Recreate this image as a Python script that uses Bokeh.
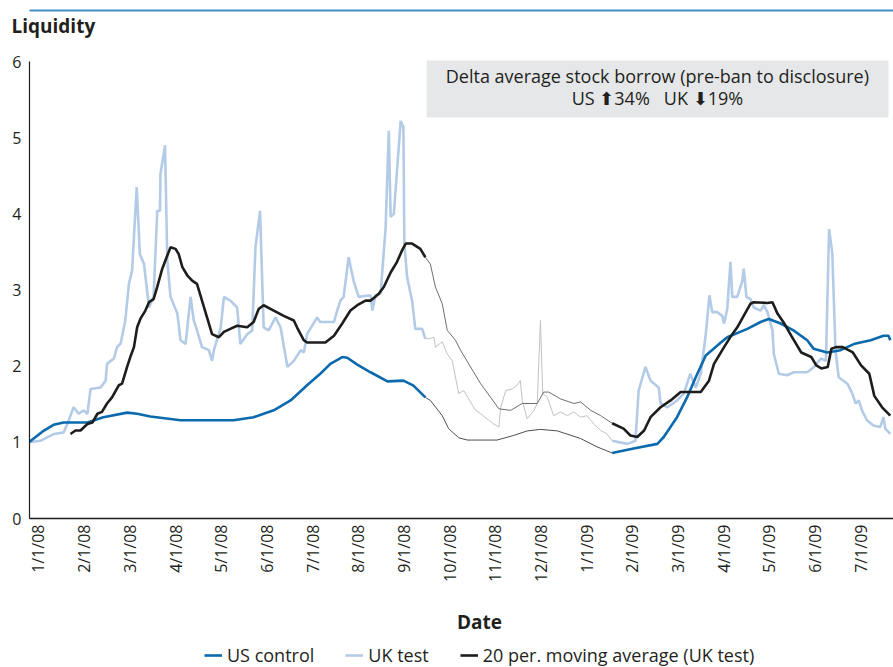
import math
import numpy as np
from bokeh.plotting import figure
from bokeh.models import (Range1d, FixedTicker, Label, BoxAnnotation, Legend, LegendItem, Title,
                          LinearAxis)
from bokeh.layouts import column
from bokeh.embed import file_html
from bokeh.resources import INLINE

# ---- data (x = months since 1 Jan 2008) ----
tick_labels = ["1/1/08", "2/1/08", "3/1/08", "4/1/08", "5/1/08", "6/1/08", "7/1/08",
               "8/1/08", "9/1/08", "10/1/08", "11/1/08", "12/1/08", "1/1/09", "2/1/09",
               "3/1/09", "4/1/09", "5/1/09", "6/1/09", "7/1/09"]
y_ticks = [0, 1, 2, 3, 4, 5, 6]

ban_start = 8.47   # ~mid Sep 2008
ban_end = 12.56    # ~mid Jan 2009

us_month = [-0.21, 0.12, 0.33, 0.55, 1.07, 1.42, 1.94, 2.16, 2.45, 3.11, 4.27, 4.71, 5.15, 5.52,
            5.88, 6.17, 6.39, 6.65, 6.76, 6.98, 7.27, 7.64, 7.99, 8.21, 8.47, 8.58, 8.84, 8.98,
            9.20, 9.39, 10.04, 10.40, 10.70, 10.99, 11.36, 11.87, 12.23, 12.56, 13.03, 13.55,
            13.69, 13.98, 14.20, 14.39, 14.61, 14.94, 15.08, 15.52, 15.81, 15.99, 16.25, 16.53,
            16.83, 16.97, 17.27, 17.56, 17.85, 18.22, 18.50, 18.61, 18.65]
us_value = [1.00, 1.155, 1.23, 1.26, 1.26, 1.33, 1.39, 1.375, 1.34, 1.29, 1.29, 1.33, 1.42, 1.55,
            1.75, 1.90, 2.03, 2.12, 2.11, 2.02, 1.92, 1.80, 1.81, 1.745, 1.59, 1.55, 1.35, 1.18,
            1.06, 1.03, 1.03, 1.09, 1.15, 1.17, 1.15, 1.05, 0.94, 0.86, 0.92, 0.98,
            1.07, 1.33, 1.59, 1.855, 2.14, 2.31, 2.38, 2.49, 2.58, 2.62, 2.56, 2.47,
            2.34, 2.23, 2.18, 2.21, 2.29, 2.34, 2.40, 2.40, 2.34]

uk_month = [-0.21, 0.04, 0.34, 0.55, 0.63, 0.77, 0.88, 0.99, 1.07, 1.14, 1.36, 1.47, 1.50, 1.65,
            1.72, 1.80, 1.90, 1.98, 2.05, 2.15, 2.22, 2.31, 2.42, 2.52, 2.60, 2.66, 2.67, 2.77,
            2.82, 2.89, 3.04, 3.11, 3.22, 3.33, 3.40, 3.47, 3.58, 3.73, 3.80, 3.84, 3.99, 4.06,
            4.20, 4.35, 4.42, 4.57, 4.68, 4.75, 4.85, 4.93, 5.04, 5.19, 5.30, 5.45, 5.59, 5.74,
            5.81, 5.88, 6.10, 6.17, 6.47, 6.54, 6.61, 6.68, 6.79, 6.90, 7.01, 7.27, 7.31, 7.38,
            7.49, 7.60, 7.67, 7.71, 7.78, 7.85, 7.93, 7.99, 8.01, 8.07, 8.18, 8.25, 8.40, 8.47,
            8.55, 8.66, 8.69, 8.84, 8.95, 9.06, 9.20, 9.31, 9.57, 9.68, 9.86, 9.97, 10.08, 10.12,
            10.23, 10.37, 10.48, 10.55, 10.59, 10.70, 10.85, 10.92, 10.99, 11.04, 11.14, 11.28,
            11.43, 11.58, 11.72, 11.87, 12.01, 12.16, 12.31, 12.45, 12.56, 12.89, 13.07, 13.14,
            13.29, 13.40, 13.58, 13.62, 13.77, 13.98, 14.13, 14.27, 14.39, 14.50, 14.61, 14.69,
            14.75, 14.86, 14.97, 15.01, 15.08, 15.15, 15.19, 15.30, 15.41, 15.44, 15.50, 15.59,
            15.66, 15.81, 15.88, 15.96, 16.07, 16.10, 16.21, 16.39, 16.54, 16.83, 16.98, 17.13,
            17.24, 17.31, 17.38, 17.45, 17.52, 17.71, 17.82, 17.89, 17.96, 18.03, 18.14, 18.28,
            18.43, 18.50, 18.54, 18.65]
uk_value = [1.00, 1.02, 1.11, 1.13, 1.24, 1.46, 1.375, 1.42, 1.37, 1.70, 1.72, 1.81, 2.03, 2.10,
            2.25, 2.30, 2.60, 3.08, 3.26, 4.35, 3.47, 3.34, 2.77, 2.91, 4.04, 4.04, 4.52, 4.90,
            3.39, 2.91, 2.69, 2.34, 2.29, 2.91, 2.60, 2.47, 2.25, 2.21, 2.07, 2.21, 2.51, 2.91,
            2.86, 2.77, 2.29, 2.42, 2.47, 3.56, 4.04, 2.51, 2.47, 2.64, 2.51, 1.99, 2.07, 2.21,
            2.18, 2.42, 2.64, 2.58, 2.58, 2.73, 2.86, 2.91, 3.43, 3.12, 2.91, 2.93, 2.73, 2.93,
            2.95, 3.82, 5.09, 3.96, 4.00, 4.57, 5.22, 5.14, 3.61, 3.17, 2.86, 2.49, 2.49, 2.36,
            2.36, 2.38, 2.25, 2.32, 2.16, 2.07, 1.64, 1.68, 1.42, 1.375, 1.29, 1.24, 1.20, 1.46,
            1.68, 1.70, 1.75, 1.81, 1.55, 1.31, 1.42, 1.51, 2.60, 1.64, 1.59, 1.35,
            1.40, 1.35, 1.40, 1.33, 1.35, 1.24, 1.155, 1.11, 1.02, 0.98, 1.02, 1.68,
            1.99, 1.81, 1.72, 1.51, 1.46, 1.55, 1.64, 1.90, 1.72, 1.90, 2.42, 2.93,
            2.71, 2.71, 2.66, 2.56, 2.75, 3.37, 2.91, 2.91, 3.12, 3.28, 2.91, 2.88,
            2.77, 2.73, 2.80, 2.71, 2.47, 2.16, 1.90, 1.88, 1.92, 1.92, 1.99, 2.10,
            2.07, 3.80, 3.48, 2.21, 1.855, 1.77, 1.64, 1.51, 1.55, 1.42, 1.29, 1.22,
            1.20, 1.33, 1.18, 1.11]

ma_month = [0.70, 0.81, 0.92, 1.07, 1.18, 1.29, 1.39, 1.50, 1.61, 1.76, 1.83, 1.94, 2.01, 2.09,
            2.16, 2.23, 2.34, 2.42, 2.52, 2.60, 2.71, 2.78, 2.89, 3.00, 3.07, 3.15, 3.26, 3.37,
            3.47, 3.58, 3.69, 3.80, 3.95, 4.06, 4.20, 4.35, 4.57, 4.71, 4.82, 4.93, 5.15, 5.37,
            5.59, 5.66, 5.81, 5.88, 6.28, 6.47, 6.65, 6.83, 6.98, 7.16, 7.27, 7.45, 7.56, 7.71,
            7.85, 7.96, 8.04, 8.18, 8.36, 8.47, 8.58, 8.69, 8.84, 8.95, 9.13, 9.24, 9.42, 9.68,
            9.90, 10.08, 10.34, 10.59, 10.92, 11.06, 11.17, 11.43, 11.72, 11.87, 12.09, 12.31,
            12.56, 12.81, 12.96, 13.11, 13.26, 13.40, 13.62, 13.84, 14.06, 14.50, 14.68, 14.79,
            15.01, 15.19, 15.30, 15.44, 15.59, 15.66, 15.96, 16.07, 16.18, 16.33, 16.48, 16.70,
            16.92, 17.03, 17.14, 17.28, 17.36, 17.46, 17.61, 17.83, 18.01, 18.19, 18.30, 18.47,
            18.65]
ma_value = [1.11, 1.155, 1.155, 1.24, 1.26, 1.375, 1.40, 1.51, 1.59, 1.75, 1.77, 1.99, 2.12, 2.25,
            2.51, 2.62, 2.73, 2.84, 2.88, 3.04, 3.28, 3.39, 3.56, 3.54, 3.47, 3.30, 3.19, 3.12,
            3.08, 2.86, 2.64, 2.42, 2.38, 2.45, 2.49, 2.53, 2.51, 2.58, 2.75, 2.80, 2.73, 2.66,
            2.60, 2.51, 2.34, 2.31, 2.31, 2.40, 2.56, 2.73, 2.80, 2.86, 2.86, 2.95, 3.04, 3.23,
            3.37, 3.52, 3.61, 3.61, 3.54, 3.43, 3.34, 3.04, 2.82, 2.47, 2.34, 2.21, 2.03, 1.77,
            1.59, 1.44, 1.42, 1.51, 1.51, 1.66, 1.66, 1.57, 1.51, 1.53, 1.42, 1.35,
            1.25, 1.18, 1.09, 1.07, 1.155, 1.33, 1.46, 1.55, 1.66, 1.66, 1.81, 2.03,
            2.25, 2.42, 2.51, 2.66, 2.82, 2.84, 2.83, 2.84, 2.69, 2.56, 2.40, 2.18,
            2.12, 2.01, 1.97, 1.99, 2.23, 2.25, 2.25, 2.18, 2.01, 1.90, 1.61, 1.46,
            1.35]

FONT = "Open Sans"
TXT = "#231f20"
UKC, USC, MAC = "#b3cbe6", "#0b69ad", "#1d1d1b"

W = 893          # full page width
LEFT = 29        # width reserved for the y axis labels
FOOT_H = 69


def split(tm, val):
    tm = np.asarray(tm, dtype=float)
    val = np.asarray(val, dtype=float)
    eps = 1e-9
    pre = tm <= ban_start + eps
    ban = (tm >= ban_start - eps) & (tm <= ban_end + eps)
    post = tm >= ban_end - eps
    return (tm[pre], val[pre]), (tm[ban], val[ban]), (tm[post], val[post])


# ---- main chart ----
p = figure(frame_width=W - LEFT, frame_height=480,
           x_range=Range1d(-0.197, 18.72), y_range=Range1d(0, 6.302),
           toolbar_location=None, output_backend="svg",
           min_border_left=LEFT, min_border_right=0, min_border_top=38, min_border_bottom=80)
p.outline_line_color = None
p.xgrid.visible = False
p.ygrid.visible = False

# bottom (date) axis: configure before any other axis is added
xa = p.below[0]
xa.ticker = FixedTicker(ticks=list(range(len(tick_labels))))
xa.major_label_overrides = {i: s for i, s in enumerate(tick_labels)}
xa.major_label_orientation = math.pi / 2
xa.major_label_standoff = 6
xa.major_tick_out = 0
xa.major_tick_in = 0
xa.minor_tick_out = 0
xa.minor_tick_in = 0
xa.major_tick_line_color = None
xa.minor_tick_line_color = None
xa.axis_line_color = "#1d1d1b"
xa.axis_line_width = 1.3
xa.major_label_text_font = FONT
xa.major_label_text_font_size = "16px"
xa.major_label_text_color = TXT

ya = p.left[0]
ya.ticker = FixedTicker(ticks=y_ticks)
ya.bounds = (0, 6)
ya.major_tick_out = 0
ya.major_tick_in = 0
ya.minor_tick_out = 0
ya.minor_tick_in = 0
ya.major_tick_line_color = None
ya.minor_tick_line_color = None
ya.axis_line_color = "#1d1d1b"
ya.axis_line_width = 1.2
ya.major_label_standoff = 8
ya.major_label_text_font = FONT
ya.major_label_text_font_size = "16px"
ya.major_label_text_color = TXT

# chart title (left of the frame) and the blue rule above it (a bare top axis line)
p.add_layout(Title(text="Liquidity", align="left", offset=11 - LEFT, standoff=0,
                   text_font=FONT, text_font_style="bold", text_font_size="19px",
                   text_color=TXT), "above")
rule = LinearAxis(ticker=FixedTicker(ticks=[]), axis_line_color="#3f8ec8", axis_line_width=2,
                  major_tick_out=0, major_tick_in=0, minor_tick_out=0, minor_tick_in=0,
                  major_tick_line_color=None, minor_tick_line_color=None,
                  major_label_standoff=0, major_label_text_alpha=0)
p.add_layout(rule, "above")

p.add_layout(BoxAnnotation(left=8.50, right=18.61, bottom=5.265, top=6.013,
                           fill_color="#e6e7e9", fill_alpha=1.0, line_color=None,
                           level="underlay"))
p.add_layout(Label(x=13.55, y=5.815, text="Delta average stock borrow (pre-ban to disclosure)",
                   text_font=FONT, text_font_size="18px", text_color=TXT,
                   text_align="center", text_baseline="middle"))
p.add_layout(Label(x=13.55, y=5.527, text="US \u2b0634%\u00a0\u00a0 UK \u2b0719%",
                   text_font=FONT, text_font_size="18px", text_color=TXT,
                   text_align="center", text_baseline="middle"))

us_pre, us_ban, us_post = split(us_month, us_value)
uk_pre, uk_ban, uk_post = split(uk_month, uk_value)
ma_pre, ma_ban, ma_post = split(ma_month, ma_value)

# ban-period thin grey lines
p.line(uk_ban[0], uk_ban[1], line_color="#c2c2c2", line_width=1)
p.line(us_ban[0], us_ban[1], line_color="#4f4f4f", line_width=1)
p.line(ma_ban[0], ma_ban[1], line_color="#6e6e6e", line_width=1)

p.line(uk_pre[0], uk_pre[1], line_color=UKC, line_width=2.6)
p.line(uk_post[0], uk_post[1], line_color=UKC, line_width=2.6)
p.line(us_pre[0], us_pre[1], line_color=USC, line_width=2.6)
p.line(us_post[0], us_post[1], line_color=USC, line_width=2.6)
p.line(ma_pre[0], ma_pre[1], line_color=MAC, line_width=2.6)
p.line(ma_post[0], ma_post[1], line_color=MAC, line_width=2.6)

# ---- footer strip: axis title + legend ----
foot = figure(width=W, height=FOOT_H, x_range=Range1d(LEFT, W), y_range=Range1d(0, FOOT_H),
              x_axis_type=None, y_axis_type=None, toolbar_location=None,
              output_backend="svg", min_border=0, min_border_left=LEFT)
foot.outline_line_color = None
foot.add_layout(Label(x=479, y=FOOT_H - 23, text="Date", text_font=FONT, text_font_style="bold",
                      text_font_size="19px", text_color=TXT, text_align="center",
                      text_baseline="middle"))
# legend keys: the same series, drawn on a range where they stay out of view
foot.extra_y_ranges = {"keys": Range1d(100, 101)}
k_us = foot.line(us_month, us_value, line_color=USC, line_width=2.6, y_range_name="keys")
k_uk = foot.line(uk_month, uk_value, line_color=UKC, line_width=2.6, y_range_name="keys")
k_ma = foot.line(ma_month, ma_value, line_color=MAC, line_width=2.6, y_range_name="keys")
legend = Legend(items=[LegendItem(label="US control", renderers=[k_us]),
                       LegendItem(label="UK test", renderers=[k_uk]),
                       LegendItem(label="20 per. moving average (UK test)", renderers=[k_ma])],
                orientation="horizontal", location=(175, 0),
                glyph_width=18, glyph_height=16, label_standoff=5, spacing=31,
                padding=0, margin=0, border_line_color=None, background_fill_alpha=0,
                label_text_font=FONT, label_text_font_size="18px", label_text_color=TXT)
foot.add_layout(legend)

layout = column(p, foot, spacing=0)
open("out.html", "w").write(file_html(layout, INLINE))
